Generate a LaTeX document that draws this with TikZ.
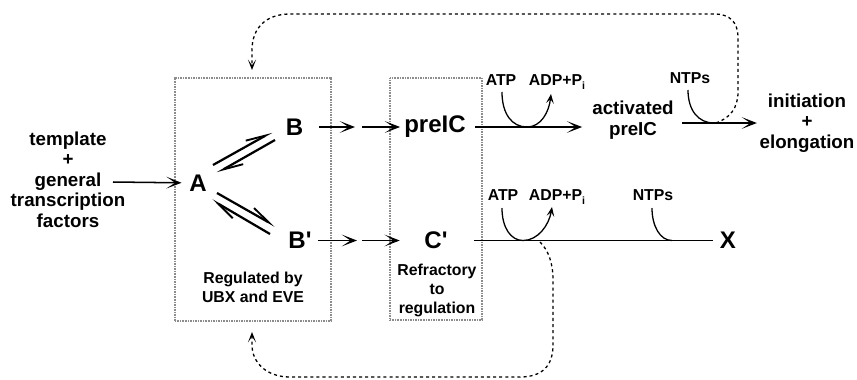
\documentclass[tikz,border=0pt]{standalone}
\usepackage{fontspec}
\setmainfont{Liberation Sans}[Ligatures=TeXOff]
\usetikzlibrary{arrows.meta,calc}
\newdimen\pxu \pxu=0.03cm
\begin{document}
\begin{tikzpicture}[x=0.03cm,y=-0.03cm,
  big/.style={font=\fontsize{20.5}{22}\selectfont\bfseries, inner sep=0pt},
  mid/.style={font=\fontsize{16}{17.5}\selectfont\bfseries, inner sep=0pt, align=center},
  sml/.style={font=\fontsize{13.5}{16.2}\selectfont\bfseries, inner sep=0pt, align=center},
  regbox/.style={draw=black!45, line width=1pt, dash pattern=on 0.8pt off 0.6pt, inner sep=0pt},
  arr/.style={line width=1.3pt, -{Stealth[length=13pt,width=10pt,inset=7.5pt]}},
  rline/.style={line width=1.3pt},
  harp/.style={line width=1.9pt, -{Straight Barb[harpoon,length=17pt,width=9pt,line width=1.6pt]}},
  carr/.style={line width=1.1pt, -{Stealth[length=8pt,width=6.5pt,inset=3.5pt]}},
  cin/.style={line width=1.1pt},
  loopy/.style={line width=1.1pt, dash pattern=on 2.6pt off 2.6pt, -{Stealth[length=9pt,width=7pt,inset=5pt]}}
]
\useasboundingbox (0,0) rectangle (857,379);

% boxes
\node[regbox, minimum width=156\pxu, minimum height=243\pxu] (box1) at (253,199.5) {};
\node[regbox, minimum width=92\pxu, minimum height=242\pxu] (box2) at (436,199) {};

% main nodes
\node[mid] (tmpl) at (68,179.5) {template\\+\\general\\transcription\\factors};
\node[big] (A) at (198,183) {A};
\node[big] (B) at (294.5,127) {B};
\node[big] (Bp) at (300,240.5) {B'};
\node[big] (preIC) at (435,127) {preIC};
\node[big] (Cp) at (436,240.5) {C'};
\node[mid] (actpre) at (633,120) {activated\\preIC};
\node[mid] (init) at (807,123) {initiation\\+\\elongation};
\node[big] (X) at (728,240.5) {X};

% small labels
\node[sml, anchor=base] (atp1) at (501,85.7) {ATP};
\node[sml, anchor=base] (adp1) at (557,85.7) {ADP+P\raisebox{-0.45ex}{\fontsize{9}{9}\selectfont i}};
\node[sml, anchor=base] (ntp1) at (690,83.7) {NTPs};
\node[sml, anchor=base] (atp2) at (503,200.7) {ATP};
\node[sml, anchor=base] (adp2) at (557,200.7) {ADP+P\raisebox{-0.45ex}{\fontsize{9}{9}\selectfont i}};
\node[sml, anchor=base] (ntp2) at (653,200.7) {NTPs};
\node[sml, anchor=north] (reg) at (253,272) {Regulated by\\UBX and EVE};
\node[sml, anchor=north] (refr) at (437,264) {Refractory\\to\\regulation};

% helper coordinates
\coordinate (tin) at (113,182);
\coordinate (m1) at (358.5,127);
\coordinate (m2) at (359.5,240.5);
\coordinate (h1s) at (213,165);
\coordinate (h1e) at (272,132);
\coordinate (h2s) at (275,140);
\coordinate (h2e) at (217,173);
\coordinate (h3s) at (217,193);
\coordinate (h3e) at (275,226);
\coordinate (h4s) at (270,234);
\coordinate (h4e) at (212,200);
\coordinate (ttip) at (252,70);
\coordinate (btip) at (252,332);

% arrows
\draw[arr, shorten >=7.5\pxu] (tin) -- (A);
\draw[harp] (h1s) -- (h1e);
\draw[harp] (h2s) -- (h2e);
\draw[harp] (h3s) -- (h3e);
\draw[harp] (h4s) -- (h4e);
\draw[arr, shorten <=15.5\pxu, shorten >=3.5\pxu] (B) -- (m1);
\draw[arr, shorten <=3.5\pxu, shorten >=4\pxu] (m1) -- (preIC);
\draw[arr, shorten <=6\pxu, shorten >=2.5\pxu] (Bp) -- (m2);
\draw[arr, shorten <=2.5\pxu, shorten >=24.5\pxu] (m2) -- (Cp);
\draw[arr, shorten <=9\pxu, shorten >=10\pxu] (preIC.east) -- (preIC.east -| actpre.west);
\draw[arr, shorten <=8.5\pxu, shorten >=2.5\pxu] (actpre.east |- init.west) -- (init.west);
\draw[rline, shorten <=26\pxu, shorten >=7\pxu] (Cp.east) -- (X.west);

% ATP / NTP curves, top
\draw[carr] (502,92) .. controls (502,114) and (512,127) .. (527,127)
  .. controls (541,127) and (549,112) .. (551,94);
\draw[cin] (688,90) .. controls (688,110) and (698,123) .. (714,123);
% bottom
\draw[carr] (502,208) .. controls (502,228) and (511,240.5) .. (523,240.5)
  .. controls (538,240.5) and (549,225) .. (552,207);
\draw[cin] (652,208) .. controls (652,226) and (660,240.5) .. (672,240.5);

% feedback loops
\draw[loopy] (716,123) .. controls (730,118) and (738,108) .. (738,92) -- (738,38)
  .. controls (738,22) and (730,14) .. (714,14) -- (290,14)
  .. controls (266,14) and (252,28) .. (252,50) -- (ttip);
\draw[loopy] (540,242) .. controls (548,250) and (553,262) .. (553,280) -- (553,345)
  .. controls (553,365) and (543,377) .. (520,377) -- (290,377)
  .. controls (266,377) and (252,362) .. (252,345) -- (btip);
\end{tikzpicture}
\end{document}
